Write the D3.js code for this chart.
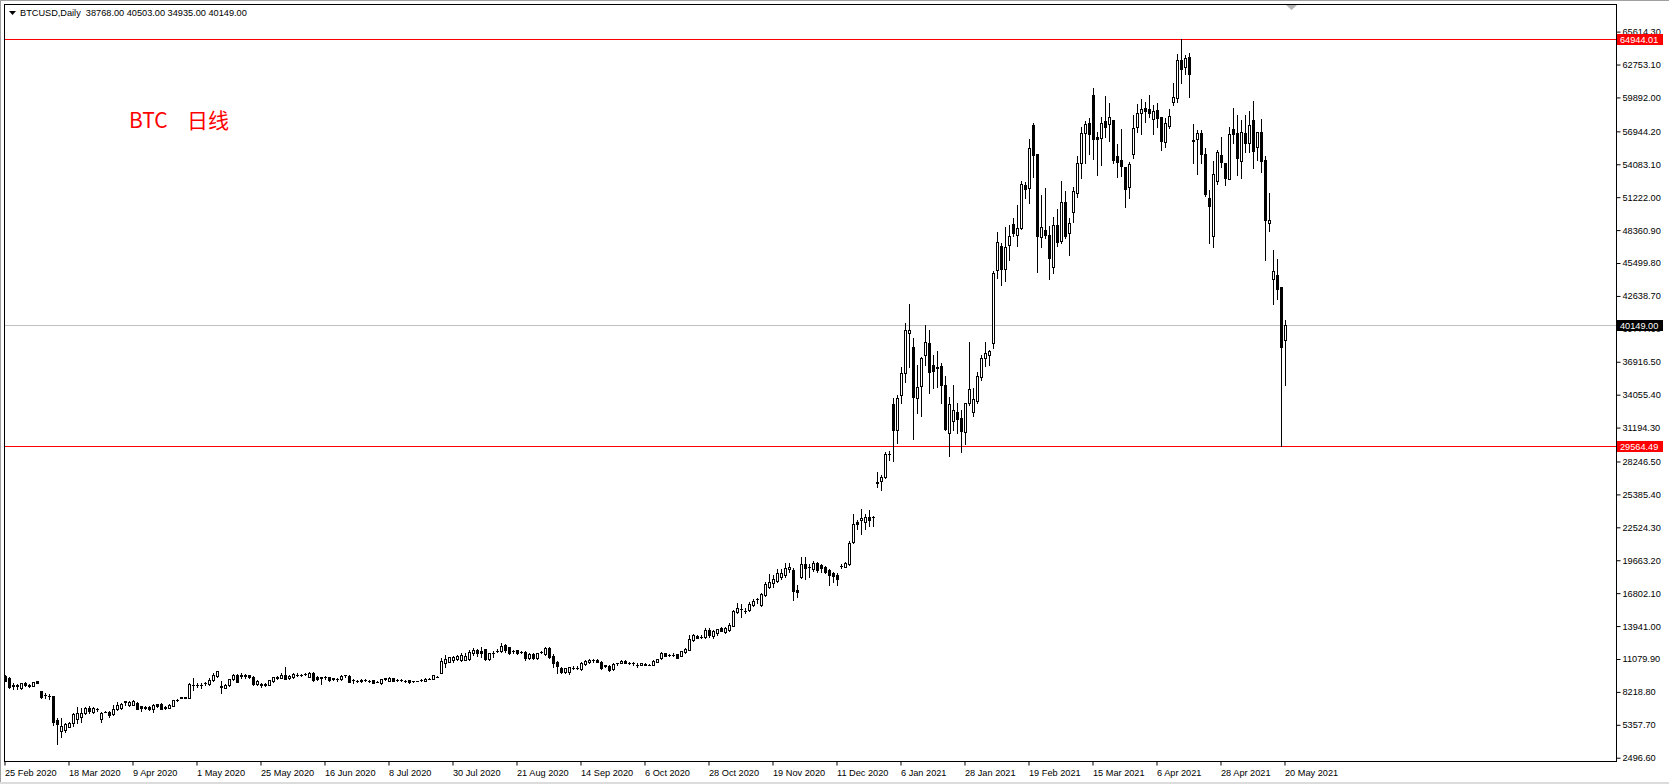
<!DOCTYPE html>
<html>
<head>
<meta charset="utf-8">
<script src="https://cdn.jsdelivr.net/npm/d3@7"></script>
<style>
html,body{margin:0;padding:0;background:#fff;overflow:hidden}
svg{display:block}
text{font-family:"Liberation Sans",Arial,sans-serif;font-size:9.2px;fill:#000}
</style>
</head>
<body>
<svg id="chart" width="1669" height="784"></svg>
<script>
// ---------- DATA ----------
const symbolTitle = "BTCUSD,Daily  38768.00 40503.00 34935.00 40149.00";
const noteParts = ["BTC   ", "日线"];

// daily candles [open, high, low, close], one per trading day, 25 Feb 2020 .. 20 May 2021
const candles = [
/*0*/  [9600,9660,9180,9190],[9400,9480,8600,8670],[8700,9020,8440,8810],[8800,8900,8480,8730],[8520,8980,8480,8960],[8960,9050,8700,8820],[8820,8880,8650,8730],[8730,9120,8700,9100],[9160,9200,9000,9020],[8290,8320,7700,7740],
/*10*/ [7950,8100,7700,7940],[7900,8030,7580,7860],[7860,7870,5340,5630],[5770,5920,3690,5430],[4850,5920,4320,5250],[4900,5480,4760,5420],[5190,5600,5130,5540],[5480,6350,5250,6290],[5830,6870,5480,6410],[6000,6790,5630,6350],
/*20*/ [6350,6880,6290,6790],[6780,6990,6350,6520],[6510,6930,6370,6790],[6720,6800,6600,6700],[5830,6500,5630,6410],[6480,6560,6430,6500],[6500,6580,6060,6210],[6290,7080,6200,6700],[6700,7370,6630,7080],[6790,7250,6700,7160],
/*30*/ [7420,7460,7080,7300],[7080,7420,7000,7370],[7100,7480,7050,7440],[7230,7300,6700,6740],[6950,7000,6600,6800],[6800,6950,6750,6880],[6880,6950,6650,6700],[6700,7150,6500,7070],[7130,7180,6900,6950],[7170,7230,6720,6740],
/*40*/ [6800,6950,6750,6880],[6850,7150,6800,7100],[7000,7550,6950,7500],[7500,7620,7450,7550],[7780,7800,7650,7700],[7750,7800,7650,7680],[7680,8950,7650,8900],[8850,9450,8380,8800],[8800,9000,8650,8830],[8850,8950,8550,8820],
/*50*/ [8950,9080,8800,9020],[8900,9400,8850,9250],[9250,9900,9200,9680],[9600,10050,9550,10000],[8760,9150,8100,8650],[8600,8900,8550,8820],[8800,9350,8750,9300],[9300,9800,9250,9700],[9680,9750,9100,9120],[9650,9900,9450,9600],
/*60*/ [9600,9780,9450,9650],[9650,9700,9400,9550],[9550,9600,8850,8900],[8900,9250,8850,9180],[8850,8990,8650,8900],[8900,9000,8700,8850],[8830,9250,8800,9230],[9200,9550,9100,9480],[9480,9600,9350,9460],[9450,9900,9400,9680],
/*70*/ [9690,10350,9300,9310],[9400,9650,9350,9600],[9500,9820,9450,9780],[9690,9850,9600,9690],[9700,9800,9600,9690],[9770,9850,9650,9780],[9550,9950,9500,9900],[9830,9980,9200,9250],[9520,9560,9250,9310],[9460,9520,8900,9480],
/*80*/ [9480,9580,9350,9480],[9480,9550,9200,9250],[9380,9450,9250,9390],[9300,9400,9200,9300],[9300,9680,9280,9600],[9680,9720,9550,9680],[9600,9650,9080,9100],[9250,9300,9000,9250],[9170,9250,9050,9170],[9180,9300,9080,9250],
/*90*/ [9250,9300,9150,9240],[9200,9280,9100,9190],[9240,9260,8950,8970],[9100,9150,9050,9105],[8950,9350,8930,9300],[9380,9420,9280,9390],[9190,9480,9180,9470],[9460,9470,9150,9200],[9250,9320,9150,9250],[9250,9320,9200,9240],
/*100*/[9190,9260,9120,9195],[9250,9280,9030,9050],[9130,9180,9050,9130],[9190,9200,9160,9190],[9250,9300,9150,9250],[9190,9400,9170,9365],[9365,9450,9300,9370],[9365,9680,9350,9650],[9540,9600,9480,9530],[9850,11200,9820,10930],
/*110*/[10760,11400,10400,11050],[10850,11250,10800,11220],[11000,11300,10850,11280],[11050,11460,10950,11370],[10950,11560,10880,11430],[11000,11600,10950,11370],[11050,11860,11000,11710],[11570,12000,11450,11890],[11860,11920,11300,11570],[11800,12100,11230,11630],
/*120*/[11920,11920,11000,11080],[11080,11620,11000,11570],[11620,11800,11220,11630],[11780,11950,11700,11790],[11740,12500,11680,12200],[12290,12350,11710,11860],[12090,12090,11480,11570],[11800,11880,11640,11800],[11860,11900,11550,11570],[11690,11800,11600,11680],
/*130*/[11710,11800,10990,11140],[11190,11560,11100,11510],[11510,11630,11060,11140],[11170,11600,11100,11570],[11660,11800,11560,11660],[11510,12090,11420,12000],[12000,12090,11130,11220],[11340,11510,10410,10760],[10810,10930,9830,10500],[10320,10410,9900,9980],
/*140*/[9960,10330,9900,10260],[9950,10420,9780,10350],[10330,10500,10250,10320],[10320,10450,10250,10330],[10180,10780,10150,10700],[10640,10950,10600,10930],[10820,11100,10760,11000],[10990,11050,10800,10990],[10990,11050,10830,10860],[10850,10940,10230,10320],
/*150*/[10530,10560,10400,10480],[10500,10550,10070,10120],[10180,10700,10130,10640],[10700,10760,10600,10700],[10760,10990,10700,10900],[10900,10950,10700,10750],[10760,10830,10650,10760],[10700,10840,10560,10690],[10560,10700,10350,10550],[10580,10730,10550,10700],
/*160*/[10650,10690,10560,10580],[10560,10620,10520,10560],[10555,10950,10520,10900],[10850,11100,10800,11075],[11130,11700,11100,11620],[11600,11640,11330,11340],[11420,11550,11300,11430],[11430,11580,11300,11440],[11480,11540,11130,11140],[11370,11800,11330,11770],
/*170*/[11660,12020,11600,11990],[11860,13200,11850,12800],[12730,13250,12650,13160],[13080,13150,12880,12880],[13020,13160,12890,13020],[13020,13750,12940,13600],[13600,13800,12950,13160],[13100,13600,12870,13540],[13310,13700,13200,13680],[13800,13830,13500,13540],
/*180*/[13450,13820,13300,13740],[13600,14230,13550,14030],[13970,15340,13940,15280],[15130,15920,15050,15540],[15400,15860,14760,15390],[15280,15480,15050,15280],[15340,16060,15280,15860],[15770,16300,15700,16150],[16260,16350,15920,16260],[15770,16840,15710,16730],
/*190*/[16640,17800,16550,17600],[17360,18440,17220,17800],[17650,18380,17360,18000],[17890,18870,17800,18580],[18230,18870,18000,18520],[18380,19450,18230,18960],[18870,19450,18670,19050],[18810,18950,16200,17020],[17080,17510,16490,16930],[18180,19910,18100,19330],
/*200*/[19310,19910,18000,19020],[19100,19330,18230,19100],[18870,19630,18760,19450],[19450,19540,18670,18810],[19250,19330,18640,18960],[19100,19160,18520,18610],[18810,18870,17510,18380],[18520,18670,17800,18290],[18380,18520,17510,18000],[19120,19330,18960,19160],
/*210*/[19100,19540,19050,19450],[19310,21360,19250,21190],[21280,23680,21190,22810],[23020,23160,22350,22810],[23160,24090,21940,23300],[23020,23680,22350,23450],[23390,24030,22650,23160],[23390,23510,22640,23400],[26350,27360,26000,26490],[26580,27070,25770,26870],
/*220*/[26870,29100,26780,28900],[28900,29190,28380,28920],[33245,33740,28300,30984],[30984,34030,29880,33740],[34030,36490,33300,35900],[35970,40315,35200,39677],[39445,41937,36490,39677],[38170,38950,30170,33880],[33740,36635,32430,34690],[34810,37360,32230,37215],
/*230*/[37500,40110,36635,38663],[38517,39677,34230,36055],[36635,37500,34610,36140],[36430,37850,34690,36380],[36545,36780,33300,34870],[34895,35680,30984,31070],[30750,33880,28750,33245],[31795,34895,30984,32720],[32580,33300,30690,31910],[32000,32720,29100,30900],
/*240*/[30840,33300,29770,33300],[33360,38660,33150,34550],[32580,34610,32200,33650],[33530,36050,33360,35680],[35620,37500,35330,37215],[37215,38660,36550,37650],[37500,37940,36635,37850],[38517,44835,38080,44600],[44890,48225,44170,47300],[46980,47210,43590,44950],
/*250*/[44950,48660,43965,46860],[47065,48800,45760,47850],[48890,49380,47850,48140],[47935,50545,46980,48515],[48515,52660,48430,52370],[52280,52570,51120,51930],[51990,56250,50690,55470],[57500,57700,53000,54890],[54975,54975,44750,47850],[47730,51410,46920,48660],
/*260*/[48370,51990,47700,47935],[47935,48720,44080,45905],[45180,49530,44600,48800],[48800,50165,46980,47350],[47440,52630,47270,50830],[50775,51760,47645,47880],[48140,49380,46200,49010],[49965,52080,49090,51790],[51615,54800,51270,54165],[54225,57295,52920,56830],
/*270*/[56830,57845,54165,57555],[57640,58080,54950,56715],[60105,60685,54540,56280],[56480,56915,53150,56280],[56340,58220,54020,57640],[57875,60020,56480,57350],[57555,59380,56135,58160],[57930,57930,54165,54455],[54800,55815,53000,54310],[54455,57150,53065,53960],
/*280*/[53820,53875,50340,51905],[52135,54250,51180,54080],[54950,58365,54660,57205],[57295,59320,56915,58510],[58510,59730,56715,58860],[58945,59525,57785,58745],[58860,60105,58165,58570],[57990,59235,56715,58745],[58800,59380,57295,58075],[58165,58165,55325,56135],
/*290*/[56050,58080,55615,57640],[57440,58860,57205,58280],[59525,61120,59235,59900],[59815,63640,59525,63147],[63147,64944,61180,62336],[62510,63560,61900,63290],[63380,63790,59960,61900],[56190,57555,54225,56100],[56250,57060,53240,56770],[56770,57060,54225,54950],
/*300*/[54950,55470,51325,51500],[51120,51850,47270,50485],[47880,54370,46920,53240],[52660,55325,52370,55120],[54860,56425,53820,54310],[54225,54225,52280,52920],[52800,57350,52775,56685],[57150,58945,55900,56715],[56770,58365,53150,54660],[54400,57930,52860,56860],
/*310*/[56770,58365,55180,55900],[55960,58715,55120,57495],[57930,59585,53730,55265],[55615,56860,54455,56860],[56860,58020,53440,54400],[54455,54800,45760,49240],[49010,51615,48310,49240],[44080,46630,41935,44805],[44460,45820,42340,43210],[43440,43440,29564,38230],
/*320*/[38768,40503,34935,40149]
];

// date labels on the time axis (every 16th trading day)
const xTickLabels = ["25 Feb 2020","18 Mar 2020","9 Apr 2020","1 May 2020","25 May 2020","16 Jun 2020","8 Jul 2020","30 Jul 2020","21 Aug 2020","14 Sep 2020","6 Oct 2020","28 Oct 2020","19 Nov 2020","11 Dec 2020","6 Jan 2021","28 Jan 2021","19 Feb 2021","15 Mar 2021","6 Apr 2021","28 Apr 2021","20 May 2021"];
const xTickStep = 16;

// price scale labels
const yTickLabels = ["65614.30","62753.10","59892.00","56944.20","54083.10","51222.00","48360.90","45499.80","42638.70","39777.60","36916.50","34055.40","31194.30","28246.50","25385.40","22524.30","19663.20","16802.10","13941.00","11079.90","8218.80","5357.70","2496.60"];

// horizontal levels
const redLevels = [64944.01, 29564.49];
const lastPrice = 40149.00;

// ---------- LAYOUT ----------
const W = 1669, H = 784;
const frame = {left: 4, right: 1616, top: 4, bottom: 761};
const priceDomain = [2212, 68015];

const svg = d3.select("#chart");
svg.append("rect").attr("width", W).attr("height", H).attr("fill", "#fff");

// window edges
svg.append("rect").attr("x",0).attr("y",0).attr("width",W).attr("height",1).attr("fill","#a0a0a0");
svg.append("rect").attr("x",0).attr("y",0).attr("width",1).attr("height",H).attr("fill","#a0a0a0");
svg.append("rect").attr("x",0).attr("y",H-2).attr("width",W).attr("height",2).attr("fill","#dcdcdc");

const x = d3.scaleBand()
  .domain(d3.range(candles.length))
  .range([3, 3 + 4 * candles.length]);
const cx = i => x(i) + x.bandwidth() / 2;           // bar centre column
const y = d3.scaleLinear().domain(priceDomain).range([frame.bottom, frame.top]);
const py = v => Math.round(y(v));

svg.append("defs").append("clipPath").attr("id","plotClip")
  .append("rect").attr("x", frame.left + 1).attr("y", frame.top + 1)
  .attr("width", frame.right - frame.left - 1).attr("height", frame.bottom - frame.top - 1);

const plot = svg.append("g").attr("clip-path","url(#plotClip)");

// horizontal level lines
plot.append("line")
  .attr("x1", frame.left).attr("x2", frame.right)
  .attr("y1", py(lastPrice) + 0.5).attr("y2", py(lastPrice) + 0.5)
  .attr("stroke", "#c0c0c0").attr("stroke-width", 1);
plot.selectAll("line.lvl").data(redLevels).join("line").attr("class","lvl")
  .attr("x1", frame.left).attr("x2", frame.right)
  .attr("y1", d => py(d) + 0.5).attr("y2", d => py(d) + 0.5)
  .attr("stroke", "#ff0000").attr("stroke-width", 1);

// candles
const cg = plot.selectAll("g.candle").data(candles).join("g").attr("class","candle");
cg.append("rect")  // wick
  .attr("x", (d, i) => Math.round(cx(i)))
  .attr("y", d => py(d[1]))
  .attr("width", 1)
  .attr("height", d => Math.max(1, py(d[2]) - py(d[1]) + 1))
  .attr("fill", "#000");
cg.each(function(d, i) {
  const [o, h, l, c] = d;
  const xc = Math.round(cx(i));
  const yt = py(Math.max(o, c)), yb = py(Math.min(o, c));
  const g = d3.select(this);
  if (c > o && yb - yt >= 2) {
    g.append("rect")
      .attr("x", xc - 0.5).attr("y", yt + 0.5)
      .attr("width", 2).attr("height", yb - yt)
      .attr("fill", "#fff").attr("stroke", "#000").attr("stroke-width", 1);
  } else {
    g.append("rect")
      .attr("x", xc - 1).attr("y", yt)
      .attr("width", 3).attr("height", Math.max(1, yb - yt + 1))
      .attr("fill", "#000");
  }
});

// frame
svg.append("rect")
  .attr("x", frame.left + 0.5).attr("y", frame.top + 0.5)
  .attr("width", frame.right - frame.left).attr("height", frame.bottom - frame.top)
  .attr("fill", "none").attr("stroke", "#000").attr("stroke-width", 1);

// price axis
const yAxis = d3.axisRight(y)
  .tickValues(yTickLabels.map(Number))
  .tickFormat((d, i) => yTickLabels[i])
  .tickSize(4).tickPadding(2);
const ya = svg.append("g").attr("transform", `translate(${frame.right + 0.5},0)`).call(yAxis);
ya.select(".domain").remove();
ya.selectAll("text").attr("font-family", "Liberation Sans, Arial, sans-serif").attr("font-size", 9.2).attr("fill","#000");
ya.selectAll("line").attr("stroke","#000");

// time axis
const xTickIdx = d3.range(0, candles.length, xTickStep);
const xAxis = d3.axisBottom(x)
  .tickValues(xTickIdx)
  .tickFormat((d, i) => xTickLabels[i])
  .tickSize(4).tickPadding(0);
const xa = svg.append("g").attr("transform", `translate(0,${frame.bottom + 0.5})`).call(xAxis);
xa.select(".domain").remove();
xa.selectAll("line").attr("stroke","#000");
xa.selectAll("text")
  .attr("text-anchor", "start").attr("x", 0).attr("dy", null).attr("y", 14.5)
  .attr("font-family", "Liberation Sans, Arial, sans-serif").attr("font-size", 9.2).attr("fill","#000");

// level price boxes on the axis
function priceBox(v, bg, label) {
  const yy = py(v);
  svg.append("rect").attr("x", frame.right + 1).attr("y", yy - 5).attr("width", 46).attr("height", 11).attr("fill", bg);
  svg.append("text").attr("x", frame.right + 4).attr("y", yy + 3.5)
    .style("fill", "#fff").text(label);
}
priceBox(redLevels[0], "#ff0000", d3.format(".2f")(redLevels[0]));
priceBox(redLevels[1], "#ff0000", d3.format(".2f")(redLevels[1]));
priceBox(lastPrice, "#000000", d3.format(".2f")(lastPrice));

// title
svg.append("path").attr("d", "M9,11 L16,11 L12.5,15 Z").attr("fill", "#000");
svg.append("text").attr("x", 20).attr("y", 16).style("white-space","pre").attr("xml:space","preserve").text(symbolTitle);

// chart shift marker
svg.append("path").attr("d", "M1286,5 L1297,5 L1291.5,10 Z").attr("fill", "#b4b4b4");

// note
const note = svg.append("text").attr("x", 129).attr("y", 128)
  .style("white-space","pre").attr("xml:space","preserve")
  .style("font-family", "'Noto Sans CJK SC', 'Noto Sans', sans-serif")
  .style("font-size", "21px").style("fill", "#ff0000");
note.append("tspan").text(noteParts[0]);
note.append("tspan").attr("x", 187).text(noteParts[1]);
</script>
</body>
</html>
